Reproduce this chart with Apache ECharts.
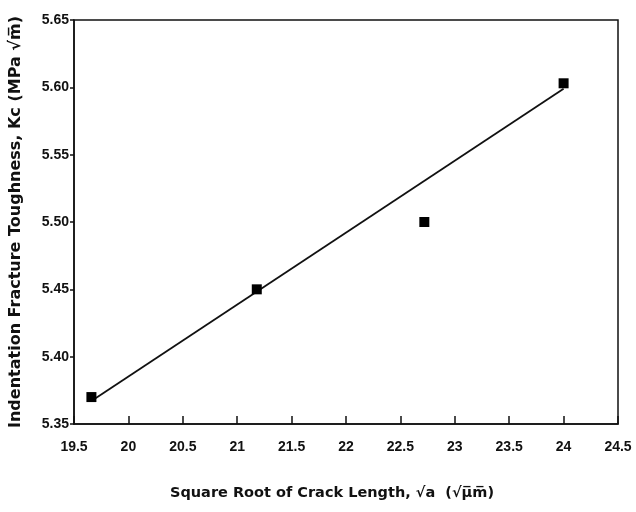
<!DOCTYPE html>
<html>
<head>
<meta charset="utf-8">
<script src="https://cdn.jsdelivr.net/npm/echarts@6/dist/echarts.min.js"></script>
<style>
  html, body { margin: 0; padding: 0; background: #fff; }
  #chart { width: 636px; height: 512px; }
</style>
</head>
<body>
<div id="chart"></div>
<script>
// Measured indentation fracture toughness against square root of crack length
const crackRoot = [19.66, 21.18, 22.72, 24.0];
const toughness = [5.37, 5.45, 5.50, 5.603];

// Straight fitted trend line, end points
const fitX = [19.66, 24.0];
const fitY = [5.367, 5.599];

const xTicks = { min: 19.5, max: 24.5, step: 0.5 };
const yTicks = { min: 5.35, max: 5.65, step: 0.05 };

const FONT = 'Liberation Sans';
const TITLE_FONT = 'DejaVu Sans';

const chart = echarts.init(document.getElementById('chart'), null, { renderer: 'canvas' });

chart.setOption({
  backgroundColor: '#fff',
  animation: false,
  grid: {
    left: 72, right: 18, top: 20, bottom: 88,
    show: true, borderColor: '#111', borderWidth: 1.5, backgroundColor: 'transparent'
  },
  xAxis: {
    type: 'value',
    min: xTicks.min, max: xTicks.max, interval: xTicks.step,
    name: 'Square Root of Crack Length, √a  (√μ̅m̅)',
    nameLocation: 'middle',
    nameGap: 62,
    nameTextStyle: { fontFamily: TITLE_FONT, fontWeight: 'bold', fontSize: 14.5, color: '#111', padding: [0, 28, 0, 0] },
    axisLine: { lineStyle: { color: '#111', width: 1.5 } },
    axisTick: { inside: true, length: 8, lineStyle: { color: '#111', width: 1.5 } },
    axisLabel: {
      fontFamily: FONT, fontWeight: 'bold', fontSize: 14, color: '#111', margin: 16,
      formatter: v => String(Math.round(v * 10) / 10)
    },
    splitLine: { show: false }
  },
  yAxis: {
    type: 'value',
    min: yTicks.min, max: yTicks.max, interval: yTicks.step,
    name: 'Indentation Fracture Toughness, Kc (MPa √m̅)',
    nameLocation: 'middle',
    nameGap: 50,
    nameTextStyle: { fontFamily: TITLE_FONT, fontWeight: 'bold', fontSize: 16, color: '#111' },
    axisLine: { lineStyle: { color: '#111', width: 1.5 } },
    axisTick: { inside: false, length: 4, lineStyle: { color: '#111', width: 1.5 } },
    axisLabel: {
      fontFamily: FONT, fontWeight: 'bold', fontSize: 14, color: '#111', margin: 5,
      formatter: v => v.toFixed(2)
    },
    splitLine: { show: false }
  },
  series: [
    {
      type: 'line',
      data: fitX.map((x, i) => [x, fitY[i]]),
      showSymbol: false,
      lineStyle: { color: '#111', width: 1.8 },
      z: 2
    },
    {
      type: 'scatter',
      data: crackRoot.map((x, i) => [x, toughness[i]]),
      symbol: 'rect',
      symbolSize: 10,
      itemStyle: { color: '#000', opacity: 1 },
      z: 3
    }
  ]
});
</script>
</body>
</html>
